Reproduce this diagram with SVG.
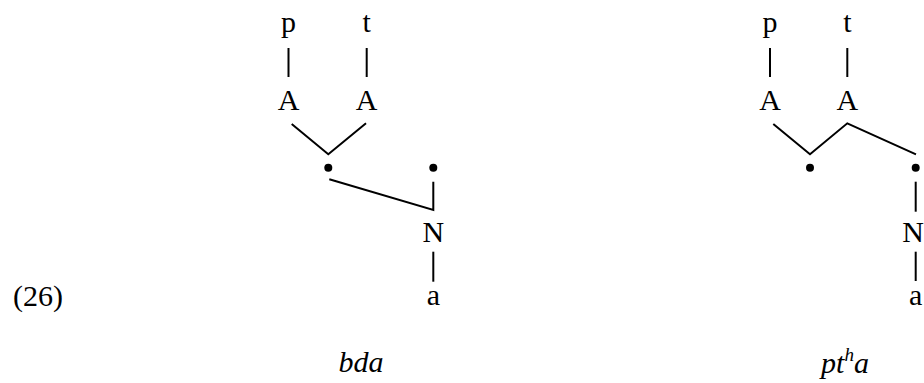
<svg xmlns="http://www.w3.org/2000/svg" width="924" height="383" viewBox="0 0 924 383">
<style>
text{font-family:"Liberation Serif","Noto Serif","DejaVu Serif",serif;font-size:30px;fill:#000;text-anchor:middle}
.it{font-style:italic}
.ln{stroke:#000;stroke-width:2;fill:none;stroke-linejoin:miter}
.dot{fill:#000}
</style>
<rect width="924" height="383" fill="#fff"/>
<text x="13" y="306" style="text-anchor:start">(26)</text>
<g id="connectors">
<line class="ln" x1="288.5" y1="48" x2="288.5" y2="77"/>
<line class="ln" x1="366.7" y1="48" x2="366.7" y2="77"/>
<polyline class="ln" points="291.7,124 328.3,154.3 366,123.3"/>
<polyline class="ln" points="329.3,179.3 433.3,210 433.3,181.7"/>
<line class="ln" x1="433.3" y1="251.7" x2="433.3" y2="281.7"/>
<line class="ln" x1="770" y1="48" x2="770" y2="77"/>
<line class="ln" x1="847.3" y1="48" x2="847.3" y2="77"/>
<polyline class="ln" points="773.3,124 810,154.3 847.3,123.3 916,154.3"/>
<line class="ln" x1="915.7" y1="181.7" x2="915.7" y2="211.7"/>
<line class="ln" x1="915.7" y1="251.7" x2="915.7" y2="281"/>
</g>
<g id="L-p"><text x="288.5" y="32">p</text></g>
<g id="L-t"><text x="366.7" y="32">t</text></g>
<g id="L-A1"><text x="288.5" y="110">A</text></g>
<g id="L-A2"><text x="366.7" y="110">A</text></g>
<g id="L-dot1"><circle class="dot" cx="328.3" cy="167.7" r="4"/></g>
<g id="L-dot2"><circle class="dot" cx="433.3" cy="167.7" r="4"/></g>
<g id="L-N"><text x="433.3" y="242">N</text></g>
<g id="L-a"><text x="433.3" y="305">a</text></g>
<g id="L-label"><text class="it" x="361" y="372">bda</text></g>
<g id="R-p"><text x="770" y="32">p</text></g>
<g id="R-t"><text x="847.3" y="32">t</text></g>
<g id="R-A1"><text x="770" y="110">A</text></g>
<g id="R-A2"><text x="847.3" y="110">A</text></g>
<g id="R-dot1"><circle class="dot" cx="810" cy="167.7" r="4"/></g>
<g id="R-dot2"><circle class="dot" cx="915.7" cy="167.7" r="4"/></g>
<g id="R-N"><text x="913" y="242" font-size="29">N</text></g>
<g id="R-a"><text x="915.7" y="305">a</text></g>
<g id="R-label"><text class="it" x="845" y="373">pt<tspan font-size="19" dy="-12">h</tspan><tspan dy="12">a</tspan></text></g>
</svg>
